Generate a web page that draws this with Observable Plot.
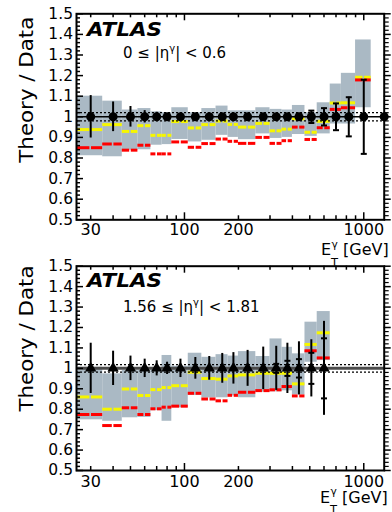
<!DOCTYPE html>
<html><head><meta charset="utf-8">
<script src="https://cdn.jsdelivr.net/npm/d3@7"></script>
<script src="https://cdn.jsdelivr.net/npm/@observablehq/plot@0.6"></script>
<style>body{margin:0;background:#fff}#c svg{display:block;overflow:visible}</style>
</head><body><div id="c"></div><script>
// ---- data ----
const binEdges = [25,35,45,55,65,75,85,105,125,150,175,200,250,300,350,400,470,550,650,750,900,1100,1500];
const binCenters = [30,40,50,60,70,80,95,115,137.5,162.5,187.5,225,275,325,375,435,510,600,700,825,1000,1300];
const xTickLabels = [30,100,200,1000];
const yTickLabels = [0.5,0.6,0.7,0.8,0.9,1.0,1.1,1.2,1.3,1.4,1.5];

// panel 1: 0 <= |eta| < 0.6
const p1Yellow = [0.938,0.962,0.929,0.957,0.910,0.910,0.977,0.946,0.962,0.979,0.963,0.950,0.968,0.932,0.940,0.990,0.925,0.978,1.067,1.068,1.192];
const p1Red    = [0.850,0.868,0.838,0.862,0.820,0.820,0.878,0.852,0.870,0.892,0.881,0.871,0.900,0.871,0.884,0.950,0.890,0.947,1.036,1.044,1.179];
const p1BandLo = [0.811,0.806,0.838,0.840,0.862,0.865,0.890,0.878,0.886,0.910,0.900,0.889,0.917,0.895,0.900,0.914,0.905,0.917,0.965,0.965,1.044];
const p1BandHi = [1.100,1.076,1.033,1.040,1.024,1.020,1.044,1.020,1.040,1.052,1.029,1.029,1.044,1.036,1.033,1.055,1.020,1.068,1.159,1.211,1.373];
const p1ErrTot = [0.103,0.072,0.050,0.030,0.022,0.015,0.012,0.010,0.010,0.010,0.010,0.010,0.010,0.012,0.012,0.015,0.030,0.042,0.065,0.095,0.180,0];
const p1ErrStat= [0,0,0,0,0,0,0,0,0,0,0,0,0,0,0,0.015,0.030,0.042,0.065,0.095,0.180,0];
const p1Lumi = 0.02;

// panel 2: 1.56 <= |eta| < 1.81
const p2Yellow = [0.860,0.800,0.899,0.867,0.896,0.906,0.915,0.981,0.950,0.947,0.963,0.968,0.976,0.976,0.976,0.924,1.117,1.174];
const p2Red    = [0.774,0.720,0.807,0.774,0.802,0.810,0.815,0.878,0.850,0.841,0.868,0.883,0.891,0.895,0.911,0.865,1.086,1.051];
const p2BandLo = [0.748,0.741,0.758,0.760,0.793,0.741,0.807,0.867,0.855,0.856,0.865,0.856,0.883,0.885,0.890,0.870,1.030,1.038];
const p2BandHi = [1.005,0.973,0.990,0.990,1.000,1.063,1.010,1.074,1.054,1.067,1.060,1.082,1.058,1.144,1.103,1.071,1.226,1.278];
const p2ErrTot = [0.123,0.084,0.060,0.045,0.037,0.030,0.045,0.053,0.058,0.073,0.077,0.088,0.104,0.108,0.123,0.130,0.140,0.230];
const p2ErrStat= [0,0,0,0,0,0,0,0,0,0,0,0,0,0.022,0.037,0.045,0.076,0.147];
const p2Lumi = 0.018;

// ---- helpers ----
const FONT = "DejaVu Sans";
const hbar = {draw(ctx, size){ const r = Math.sqrt(size/Math.PI); ctx.moveTo(-r,0); ctx.lineTo(r,0); }};

function segments(vals){
  const out = [];
  vals.forEach((v,i)=>{
    out.push({x1: binEdges[i], x2: binCenters[i], y: v, side: 0});
    out.push({x1: binCenters[i], x2: binEdges[i+1], y: v, side: 1});
  });
  return out;
}

function panel(cfg){
  const {height, mt, mb, yellow, red, lo, hi, errTot, errStat, lumi, marker, lineColor, lineWidth, xPad} = cfg;
  const ml = 76, mr = 8.3, width = 392;
  const W = width - ml - mr, H = height - mt - mb;
  const bands = lo.map((l,i)=>({x1: binEdges[i], x2: binEdges[i+1], y1: l, y2: hi[i]}));
  const pts = errTot.map((e,i)=>({x: binCenters[i], y: 1, e, s: errStat[i]}));
  const ySeg = segments(yellow), rSeg = segments(red);
  const xMajor = [100,1000];
  const xMinor = [30,40,50,60,70,80,90,200,300,400,500,600,700,800,900];
  const yMajor = yTickLabels;
  const yMinor = d3.range(51).map(i=>0.5+i*0.02).filter(v=>Math.abs(Math.round(v*10)-v*10)>0.01);
  const marks = [
    Plot.rect(bands, {x1:"x1", x2:"x2", y1:"y1", y2:"y2", fill:"#aab9c4"}),
    Plot.ruleY(ySeg.filter(d=>d.side===0), {x1:"x1", x2:"x2", y:"y", stroke:"#f6f600", strokeWidth:3, insetRight:0.8}),
    Plot.ruleY(ySeg.filter(d=>d.side===1), {x1:"x1", x2:"x2", y:"y", stroke:"#f6f600", strokeWidth:3, insetLeft:0.8}),
    Plot.ruleY(rSeg.filter(d=>d.side===0), {x1:"x1", x2:"x2", y:"y", stroke:"#ff0000", strokeWidth:3, insetRight:0.8}),
    Plot.ruleY(rSeg.filter(d=>d.side===1), {x1:"x1", x2:"x2", y:"y", stroke:"#ff0000", strokeWidth:3, insetLeft:0.8}),
    Plot.ruleY([1+lumi, 1-lumi], {stroke:"#000", strokeWidth:1.3, strokeDasharray:"2,2"}),
    Plot.ruleY([1], {stroke: lineColor, strokeWidth: lineWidth}),
    Plot.ruleX(pts.filter(d=>d.e>0), {x:"x", y1: d=>1-d.e, y2: d=>1+d.e, stroke:"#000", strokeWidth:2}),
    Plot.dot(pts.filter(d=>d.s>0), {x:"x", y: d=>1+d.s, symbol: hbar, r:3, stroke:"#000", strokeWidth:2}),
    Plot.dot(pts.filter(d=>d.s>0), {x:"x", y: d=>1-d.s, symbol: hbar, r:3, stroke:"#000", strokeWidth:2}),
    marker === "circle"
      ? Plot.dot(pts, {x:"x", y:"y", r:4.5, fill:"#000", stroke:"none"})
      : Plot.dot(pts, {x:"x", y:"y", r:4.2, symbol:"triangle", fill:"#000", stroke:"none"}),
    Plot.frame({stroke:"#000", strokeWidth:2}),
    Plot.tickX(xMajor, {x: d=>d, insetTop: H-7, stroke:"#000", strokeWidth:1.5}),
    Plot.tickX(xMinor, {x: d=>d, insetTop: H-4, stroke:"#000", strokeWidth:1.5}),
    Plot.tickX(xMajor, {x: d=>d, insetBottom: H-7, stroke:"#000", strokeWidth:1.5}),
    Plot.tickX(xMinor, {x: d=>d, insetBottom: H-4, stroke:"#000", strokeWidth:1.5}),
    Plot.tickY(yMajor, {y: d=>d, insetRight: W-7, stroke:"#000", strokeWidth:1.5}),
    Plot.tickY(yMinor, {y: d=>d, insetRight: W-4, stroke:"#000", strokeWidth:1.5}),
    Plot.tickY(yMajor, {y: d=>d, insetLeft: W, insetRight: -7, stroke:"#000", strokeWidth:1.5}),
    Plot.tickY(yMinor, {y: d=>d, insetLeft: W+1, insetRight: -5, stroke:"#000", strokeWidth:1.2}),
    Plot.text(xTickLabels, {x: d=>d, frameAnchor:"bottom", lineAnchor:"top", dy: xPad + 0.5, text: d=>String(d), fontSize:16, fill:"#000"}),
    Plot.text(yTickLabels, {y: d=>d, frameAnchor:"left", textAnchor:"end", dx:-3.5, text: d=>Math.abs(d-1)<1e-9 ? "1" : d.toFixed(1), fontSize:15.5, fill:"#000"})
  ];
  return Plot.plot({
    width, height, marginLeft: ml, marginRight: mr, marginTop: mt, marginBottom: mb,
    style: {fontFamily: FONT, background: "transparent", overflow: "visible", color: "#000"},
    x: {type:"log", domain:[25,1300], axis:null},
    y: {domain:[0.5,1.5], axis:null},
    marks
  });
}

function addText(svg, x, y, size, str){
  return svg.append("text").attr("x",x).attr("y",y).attr("text-anchor","start")
    .attr("font-family",FONT).attr("font-size",size).attr("fill","#000").text(str);
}

function decorate(svgEl, t){
  const svg = d3.select(svgEl);
  svg.append("text").attr("transform", `translate(33,${t.ylabTop}) rotate(-90)`)
    .attr("text-anchor","end").attr("font-family",FONT).attr("font-size",20)
    .attr("textLength",146).attr("lengthAdjust","spacingAndGlyphs").attr("fill","#000")
    .text("Theory / Data");
  addText(svg, 87, t.atlasY, 19, "ATLAS").attr("font-weight","bold").attr("font-style","italic")
    .attr("textLength",75).attr("lengthAdjust","spacingAndGlyphs");
  const eta = addText(svg, 123, t.etaY, 15, null);
  eta.append("tspan").text(t.etaLo + " \u2264 |\u03b7");
  eta.append("tspan").attr("font-size",10).attr("dy",-6).text("\u03b3");
  eta.append("tspan").attr("dy",6).text("| < " + t.etaHi);
  addText(svg, t.ex, t.eY, 16, "E");
  addText(svg, t.ex+10, t.eY+11.5, 11.5, "T");
  addText(svg, t.ex+10.5, t.eY-7.5, 10.7, "\u03b3");
  addText(svg, t.ex+22, t.eY, 16, "[GeV]");
}

const c = document.getElementById("c");
const top1 = panel({height:262, mt:13.3, mb:42.7, yellow:p1Yellow, red:p1Red, lo:p1BandLo, hi:p1BandHi,
  errTot:p1ErrTot, errStat:p1ErrStat, lumi:p1Lumi, marker:"circle", lineColor:"#000", lineWidth:1.6, xPad:3.5});
const bot = panel({height:250, mt:3.7, mb:42, yellow:p2Yellow, red:p2Red, lo:p2BandLo, hi:p2BandHi,
  errTot:p2ErrTot, errStat:p2ErrStat, lumi:p2Lumi, marker:"triangle", lineColor:"#4a4a4a", lineWidth:3, xPad:5});
c.appendChild(top1); c.appendChild(bot);
decorate(top1, {ylabTop:16.7, atlasY:36, etaY:58, etaLo:"0", etaHi:"0.6", ex:321, eY:255});
decorate(bot, {ylabTop:3.5, atlasY:25, etaY:49.7, etaLo:"1.56", etaHi:"1.81", ex:320, eY:240.5});
</script></body></html>
